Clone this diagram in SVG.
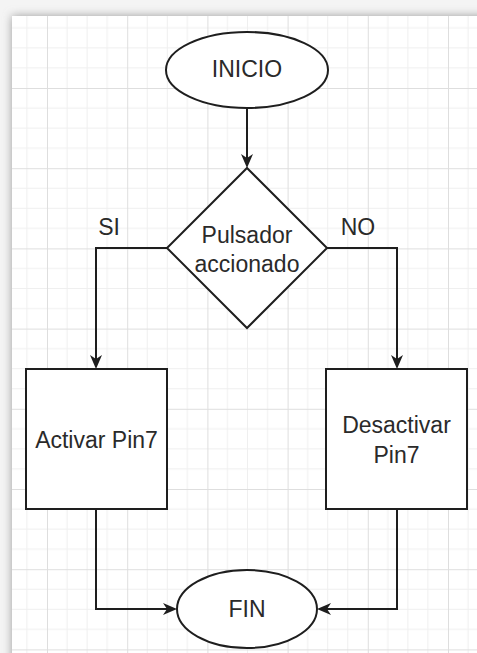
<svg xmlns="http://www.w3.org/2000/svg" width="477" height="653" viewBox="0 0 477 653">
  <defs>
    <style>
      .shape { fill: #ffffff; stroke: #1e1e1e; stroke-width: 2; }
      .edge { fill: none; stroke: #1e1e1e; stroke-width: 2; }
      .label { font-family: "Liberation Sans", Arial, sans-serif; font-size: 23px; fill: #2a2a2a; text-anchor: middle; }
    </style>
    <filter id="pageShadow" x="-10%" y="-10%" width="120%" height="120%">
      <feGaussianBlur stdDeviation="5"/>
    </filter>
    <pattern id="grid" patternUnits="userSpaceOnUse" x="47" y="88" width="80.2" height="80.2">
      <path d="M20.05 0V80.2M40.1 0V80.2M60.15 0V80.2M0 20.05H80.2M0 40.1H80.2M0 60.15H80.2" stroke="#efefef" stroke-width="1" fill="none"/>
      <path d="M0.5 0V80.2M0 0.5H80.2" stroke="#dedede" stroke-width="1" fill="none"/>
    </pattern>
    <marker id="arrow" viewBox="0 0 14 12" markerWidth="14" markerHeight="12" refX="4" refY="6" orient="auto" markerUnits="userSpaceOnUse">
      <path d="M0,0 L14,6 L0,12 L4,6 Z" fill="#1e1e1e"/>
    </marker>
  </defs>

  <!-- page with soft shadow on the top and left edges -->
  <rect x="0" y="0" width="477" height="653" fill="#f4f4f4"/>
  <rect x="12" y="16" width="480" height="660" fill="#9a9a9a" filter="url(#pageShadow)"/>
  <rect x="12" y="16" width="470" height="640" fill="#ffffff"/>
  <rect x="12" y="16" width="470" height="640" fill="url(#grid)"/>

  <!-- connectors -->
  <g id="connectors">
    <path class="edge" d="M247,108 V158" marker-end="url(#arrow)"/>
    <path class="edge" d="M167,248 H96 V359" marker-end="url(#arrow)"/>
    <path class="edge" d="M327,248 H397 V359" marker-end="url(#arrow)"/>
    <path class="edge" d="M96,509 V609 H167" marker-end="url(#arrow)"/>
    <path class="edge" d="M397,509 V609 H327" marker-end="url(#arrow)"/>
    <text class="label" x="109" y="235">SI</text>
    <text class="label" x="358" y="235">NO</text>
  </g>

  <g id="inicio">
    <ellipse class="shape" cx="247" cy="70" rx="81" ry="38"/>
    <text class="label" x="247" y="77">INICIO</text>
  </g>

  <g id="pulsador">
    <polygon class="shape" points="247,168 327,248 247,328 167,248"/>
    <text class="label" x="247" y="243">Pulsador</text>
    <text class="label" x="247" y="272">accionado</text>
  </g>

  <g id="activar">
    <rect class="shape" x="26" y="369" width="141" height="140"/>
    <text class="label" x="96.5" y="448">Activar Pin7</text>
  </g>

  <g id="desactivar">
    <rect class="shape" x="326" y="369" width="141" height="140"/>
    <text class="label" x="396.5" y="433">Desactivar</text>
    <text class="label" x="396.5" y="463">Pin7</text>
  </g>

  <g id="fin">
    <ellipse class="shape" cx="247" cy="609" rx="70" ry="39"/>
    <text class="label" x="247" y="617">FIN</text>
  </g>
</svg>
